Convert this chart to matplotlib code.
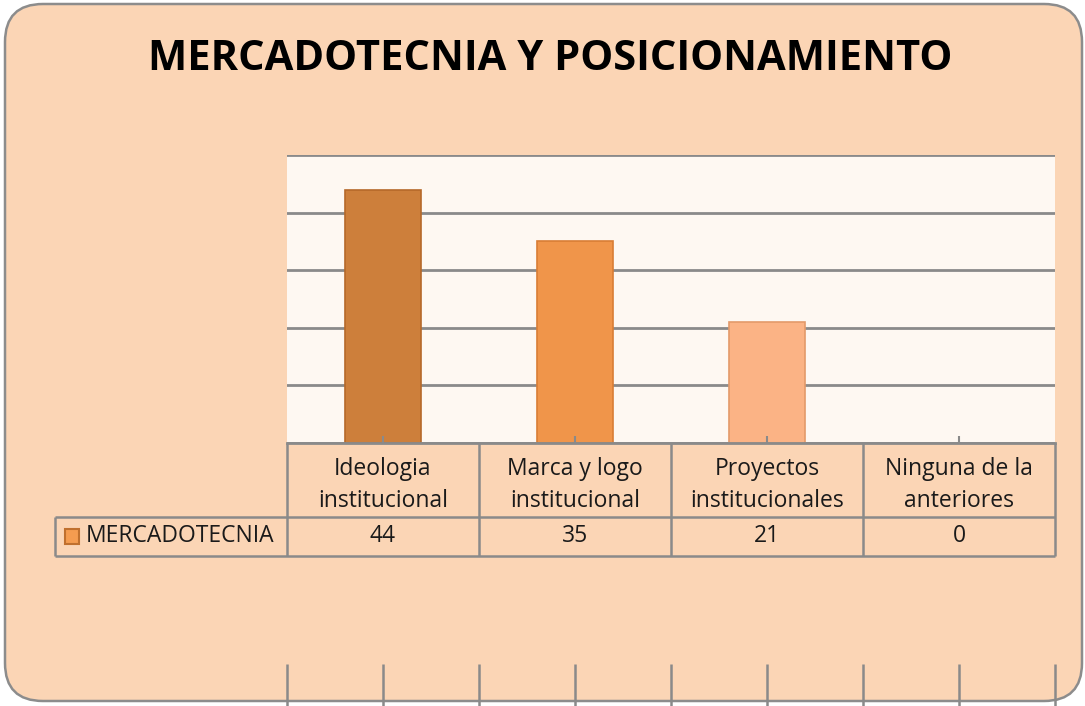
import numpy as np
import matplotlib
matplotlib.use("Agg")
import matplotlib.pyplot as plt
from matplotlib.patches import FancyBboxPatch, Rectangle
from matplotlib.transforms import blended_transform_factory

# data
categories = ["Ideologia\ninstitucional", "Marca y logo\ninstitucional",
              "Proyectos\ninstitucionales", "Ninguna de la\nanteriores"]
values = [44, 35, 21, 0]
series_name = "MERCADOTECNIA"
title = "MERCADOTECNIA Y POSICIONAMIENTO"
bar_colors = ["#CD7F3B", "#F0954A", "#FBB385", "#FCC8A0"]
edge_colors = ["#B5692A", "#D97D35", "#E39A6A", "#E3A880"]

W, H = 1085, 706
fig = plt.figure(figsize=(W / 100, H / 100), dpi=100)
fig.patch.set_facecolor("white")

# rounded background
bg = FancyBboxPatch((5 / W, 5 / H), 1077 / W, 697 / H,
                    boxstyle="round,pad=0,rounding_size=0.035",
                    transform=fig.transFigure, facecolor="#FBD5B5",
                    edgecolor="#8C8C8C", linewidth=1.8, mutation_aspect=W / H,
                    zorder=-10)
fig.patches.append(bg)

fig.text(550 / W, 1 - 60 / H, title, ha="center", va="center",
         fontsize=30, fontweight="bold", family="Open Sans", color="black")

left, right, top, bottom = 287, 1055, 155, 443
ax = fig.add_axes([left / W, 1 - bottom / H, (right - left) / W, (bottom - top) / H])
ax.set_facecolor("#FEF8F2")

x = np.arange(len(categories))
ax.bar(x, values, width=0.4, color=bar_colors, edgecolor=edge_colors,
       linewidth=[1.2 if v > 0 else 0 for v in values], zorder=3)
ax.set_xlim(-0.5, len(categories) - 0.5)
ax.set_ylim(0, 50)
ax.set_yticks(np.arange(0, 51, 10))
ax.yaxis.grid(True, color="#8A8A8A", linewidth=2)
ax.set_axisbelow(True)
ax.tick_params(axis="y", length=0, labelleft=False)
ax.set_xticks(x)
ax.tick_params(axis="x", length=0, labelbottom=False)
for s in ["top", "right", "left"]:
    ax.spines[s].set_visible(False)
ax.spines["bottom"].set_color("#8A8A8A")
ax.spines["bottom"].set_linewidth(2)
ax.spines["bottom"].set_zorder(4)

# data table below the axis
trans = blended_transform_factory(ax.transData, ax.transAxes)
ph = bottom - top
y_head = -(517 - bottom) / ph
y_row = -(556 - bottom) / ph
y_l0 = -(664 - bottom) / ph
y_l1 = -(706 - bottom) / ph
x_leg = -0.5 - (left - 55) / 192
lc = "#8A8A8A"
lw = 1.8
n = len(categories)
bounds = np.arange(n + 1) - 0.5
fs = 16.5

def line(xs, ys, **kw):
    ax.plot(xs, ys, color=lc, lw=kw.pop("lw", lw), transform=trans, clip_on=False,
            solid_capstyle="butt", **kw)

# inward category ticks, drawn over the bars
for xi in x:
    line([xi, xi], [0, 7 / ph], lw=1.5, zorder=5)

for b in bounds:
    line([b, b], [0, y_row])
line([x_leg, x_leg], [y_head, y_row])
line([x_leg, bounds[-1]], [y_head, y_head])
line([x_leg, bounds[-1]], [y_row, y_row])

for i, (c, v) in enumerate(zip(categories, values)):
    ax.text(i, (0 + y_head) / 2 - 0.018, c, transform=trans, ha="center", va="center",
            fontsize=fs, family="Open Sans", linespacing=1.45, color="#1A1A1A")
    ax.text(i, (y_head + y_row) / 2, str(v), transform=trans, ha="center", va="center",
            fontsize=fs, family="Open Sans", color="#1A1A1A")

ax.add_patch(Rectangle((x_leg + 0.05, (y_head + y_row) / 2 - 0.026), 0.075, 0.052,
                       transform=trans, facecolor="#F59C50", edgecolor="#C0702E",
                       lw=1.5, clip_on=False))
ax.text(x_leg + 0.16, (y_head + y_row) / 2, series_name, transform=trans, ha="left",
        va="center", fontsize=fs, family="Open Sans", color="#1A1A1A")

# cut-off table lines at the bottom edge
for b in np.arange(-0.5, n, 0.5):
    line([b, b], [y_l0, y_l1])

fig.savefig("out.png", dpi=100, facecolor=fig.get_facecolor())
